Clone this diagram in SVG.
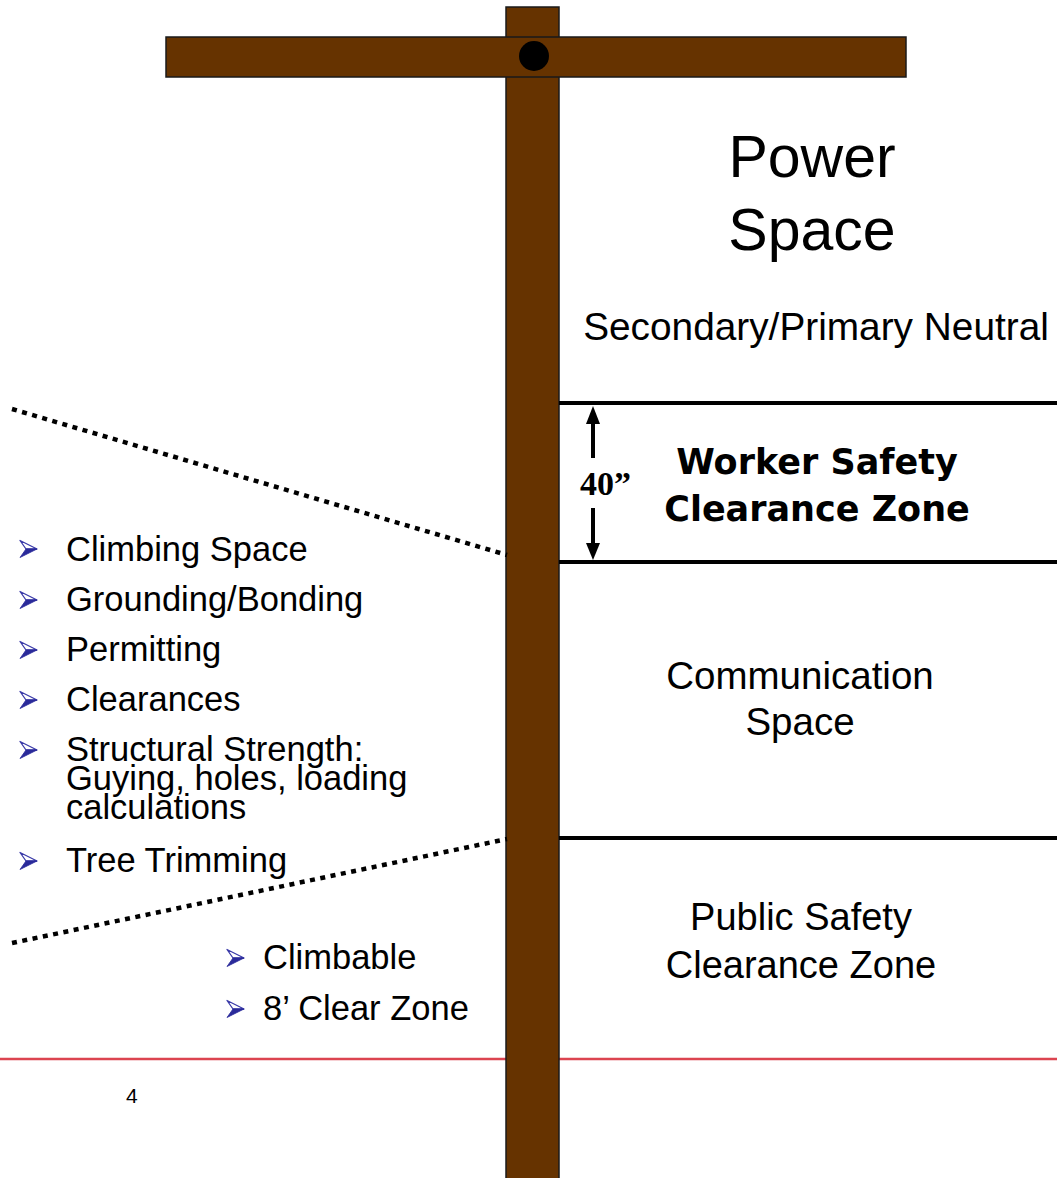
<svg xmlns="http://www.w3.org/2000/svg" width="1057" height="1178" viewBox="0 0 1057 1178">
<style>
.wood{fill:#663300;stroke:#1a1a1a;stroke-width:1.5}
.t{font-family:"Liberation Sans",Arial,sans-serif;fill:#000}
.b{font-family:"DejaVu Sans","Liberation Sans",sans-serif;font-weight:bold;fill:#000}
.bnd{stroke:#000;stroke-width:4;fill:none}
.dot{stroke:#000;stroke-width:4.5;stroke-dasharray:5 5.5;fill:none}
.bul{fill:#2a2a9a;stroke:#2a2a9a;stroke-width:0.8;stroke-linejoin:round}
.bulo{fill:#ffffff;stroke:#3a3aa8;stroke-width:1.3;stroke-linejoin:round}
</style>
<defs>
<g id="bullet">
<path class="bulo" d="M0,-8.5 L17,0 L6,0 Z"/>
<path class="bul" d="M6,0 L17,0 L0,8.5 Z"/>
</g>
</defs>
<rect width="1057" height="1178" fill="#fff"/>
<line x1="0" y1="1059" x2="1057" y2="1059" stroke="#dc4450" stroke-width="2.5"/>
<g id="pole">
<rect class="wood" x="506" y="7" width="53" height="1180"/>
</g>
<g id="crossarm">
<rect class="wood" x="166" y="37" width="740" height="40"/>
<circle cx="534" cy="56" r="15" fill="#000"/>
</g>
<g id="connectors">
<line class="bnd" x1="559" y1="403" x2="1057" y2="403"/>
<line class="bnd" x1="559" y1="562" x2="1057" y2="562"/>
<line class="bnd" x1="559" y1="838" x2="1057" y2="838"/>
<line class="dot" x1="12" y1="409" x2="507" y2="555"/>
<line class="dot" x1="12" y1="943" x2="507" y2="839"/>
<line x1="593" y1="458" x2="593" y2="422" stroke="#000" stroke-width="4"/>
<polygon points="593,406 586,424 600,424" fill="#000"/>
<line x1="593" y1="508" x2="593" y2="545" stroke="#000" stroke-width="4"/>
<polygon points="593,560 586,543 600,543" fill="#000"/>
</g>
<g id="power-space">
<text class="t" x="812" y="177" font-size="59" text-anchor="middle">Power</text>
<text class="t" x="812" y="250" font-size="59" text-anchor="middle">Space</text>
<text class="t" x="816" y="340" font-size="38.8" text-anchor="middle">Secondary/Primary Neutral</text>
</g>
<g id="worker-safety-zone">
<text class="b" x="817" y="474" font-size="35" text-anchor="middle">Worker Safety</text>
<text class="b" x="817" y="521" font-size="35" text-anchor="middle">Clearance Zone</text>
<text x="580" y="495" font-family="'Liberation Serif','Times New Roman',serif" font-weight="bold" font-size="34">40”</text>
</g>
<g id="communication-space">
<text class="t" x="800" y="689" font-size="38.5" text-anchor="middle">Communication</text>
<text class="t" x="800" y="735" font-size="38.5" text-anchor="middle">Space</text>
</g>
<g id="public-safety-zone">
<text class="t" x="801" y="930" font-size="38" text-anchor="middle">Public Safety</text>
<text class="t" x="801" y="978" font-size="38" text-anchor="middle">Clearance Zone</text>
</g>
<g id="issues-list">
<use href="#bullet" x="20" y="549"/>
<text class="t" x="66" y="561" font-size="34.5">Climbing Space</text>
<use href="#bullet" x="20" y="600"/>
<text class="t" x="66" y="611" font-size="34.5">Grounding/Bonding</text>
<use href="#bullet" x="20" y="650"/>
<text class="t" x="66" y="661" font-size="34.5">Permitting</text>
<use href="#bullet" x="20" y="700"/>
<text class="t" x="66" y="711" font-size="34.5">Clearances</text>
<use href="#bullet" x="20" y="750"/>
<text class="t" x="66" y="761" font-size="34.5">Structural Strength:</text>
<text class="t" x="66" y="790" font-size="34.5">Guying, holes, loading</text>
<text class="t" x="66" y="819" font-size="34.5">calculations</text>
<use href="#bullet" x="20" y="861"/>
<text class="t" x="66" y="872" font-size="34.5">Tree Trimming</text>
</g>
<g id="public-list">
<use href="#bullet" x="227" y="958"/>
<text class="t" x="263" y="969" font-size="34.5">Climbable</text>
<use href="#bullet" x="227" y="1009"/>
<text class="t" x="263" y="1020" font-size="34.5">8’ Clear Zone</text>
</g>
<g id="page-number">
<text class="t" x="126" y="1103" font-size="21">4</text>
</g>
</svg>
